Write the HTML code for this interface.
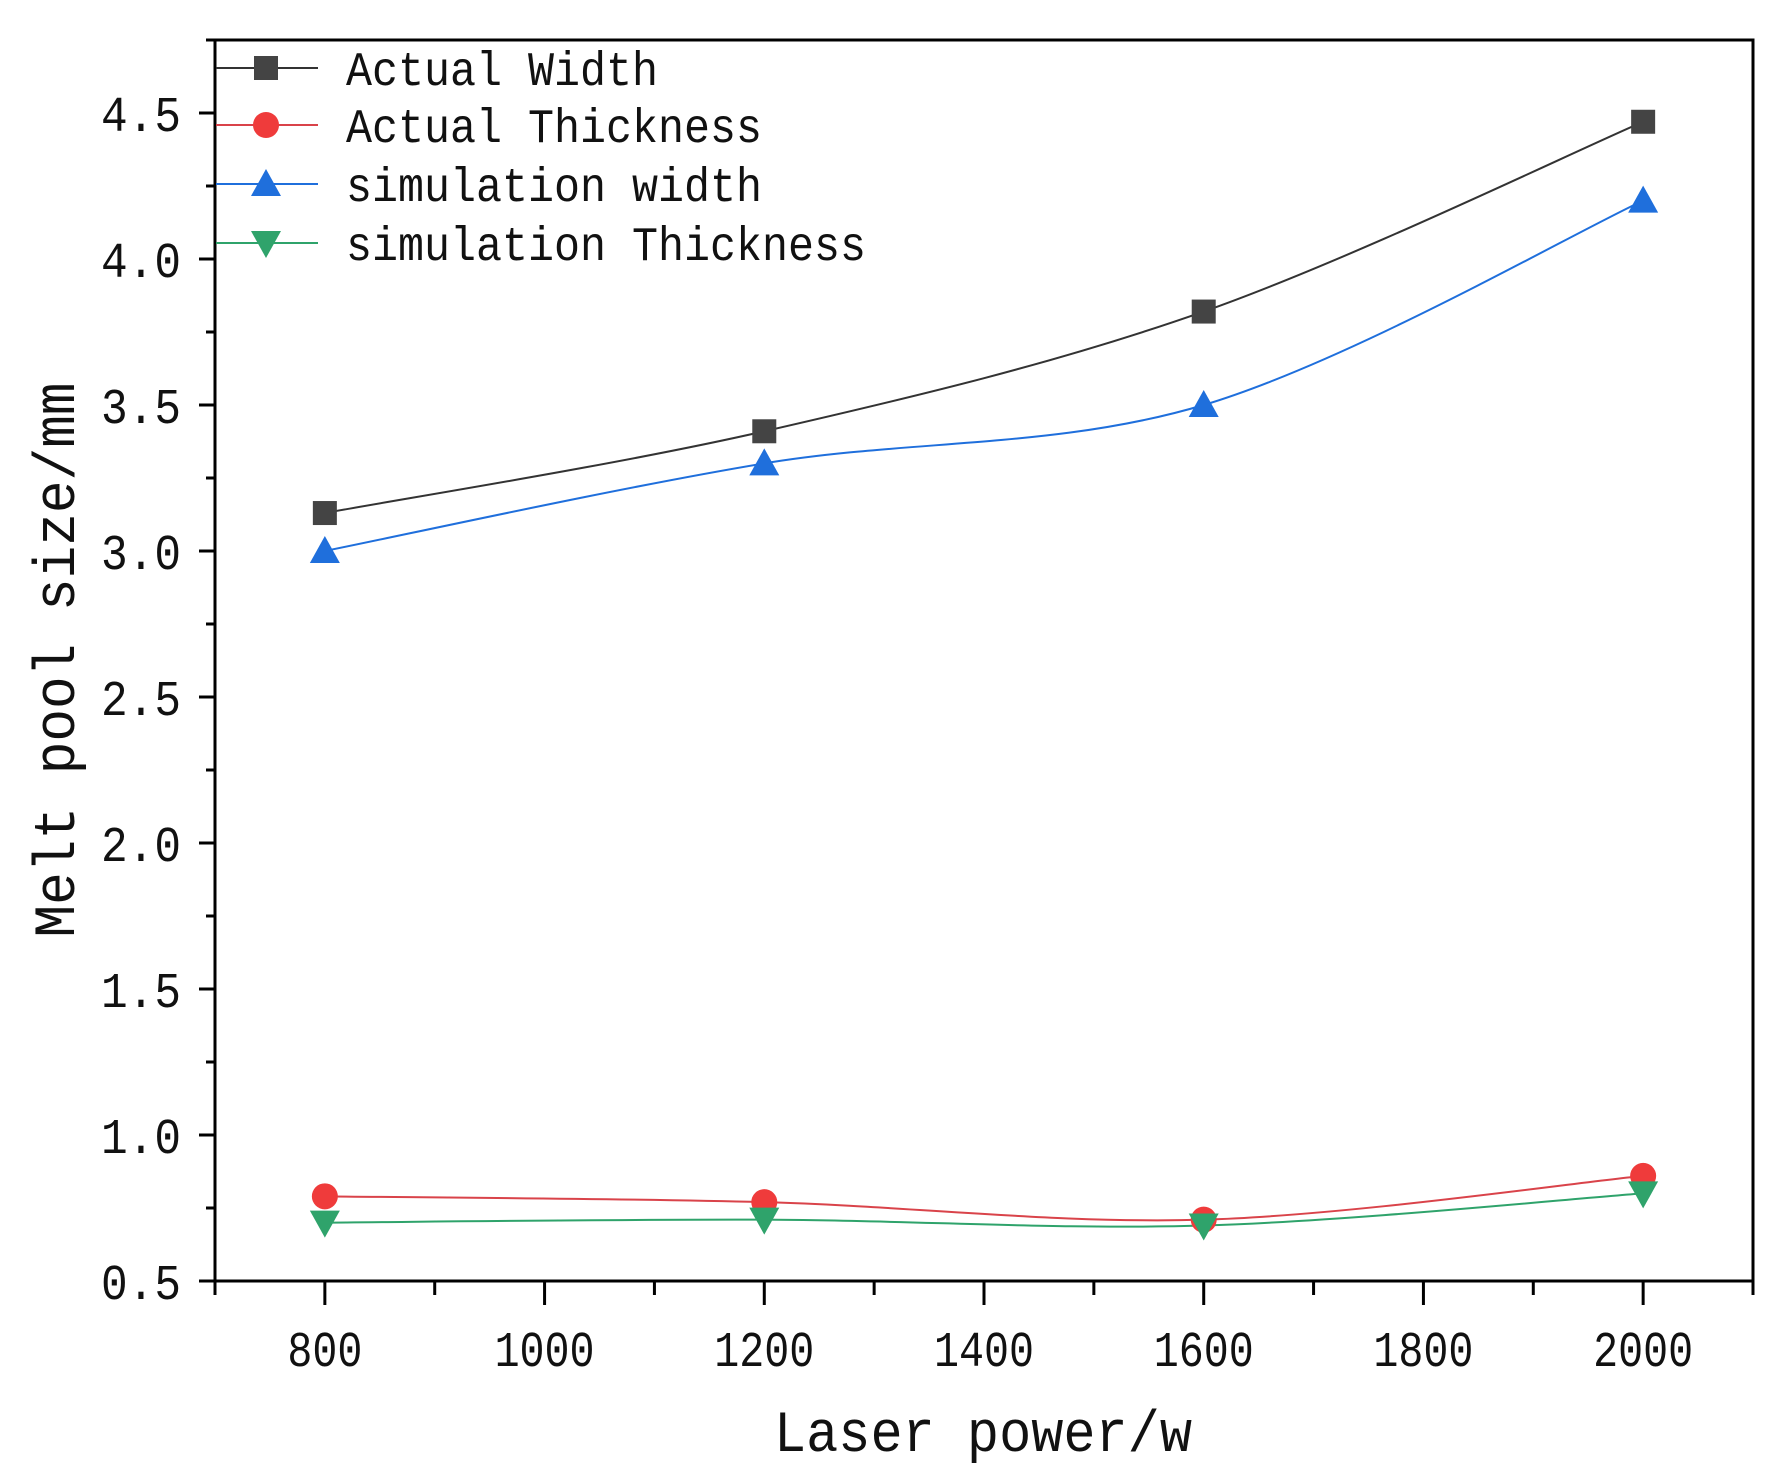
<!DOCTYPE html>
<html><head><meta charset="utf-8"><style>
html,body{margin:0;padding:0;background:#fff;}
svg{display:block;}
text{font-family:"Liberation Mono","Noto Sans CJK SC",monospace;fill:#111;}
</style></head><body>
<svg id="chart" width="1777" height="1483" viewBox="0 0 1777 1483" xmlns="http://www.w3.org/2000/svg"></svg>
<script>
const categories = [800, 1200, 1600, 2000];
const actualWidth = [3.13, 3.41, 3.82, 4.47];
const actualThickness = [0.79, 0.77, 0.71, 0.86];
const simWidth = [3.0, 3.3, 3.5, 4.2];
const simThickness = [0.70, 0.71, 0.69, 0.80];
const xTicks = [800, 1000, 1200, 1400, 1600, 1800, 2000];
const yTicks = [0.5, 1.0, 1.5, 2.0, 2.5, 3.0, 3.5, 4.0, 4.5];
const yTickLabels = ["0.5","1.0","1.5","2.0","2.5","3.0","3.5","4.0","4.5"];

const L=215,R=1753,T=40,B=1281;
const xMin=700,xMax=2100,yMin=0.5,yMax=4.75;
const X=v=>L+(v-xMin)/(xMax-xMin)*(R-L);
const Y=v=>B-(v-yMin)/(yMax-yMin)*(B-T);
const svg=document.getElementById('chart');
const NS='http://www.w3.org/2000/svg';
function mk(tag,attrs,parent){const e=document.createElementNS(NS,tag);for(const k in attrs)e.setAttribute(k,attrs[k]);(parent||svg).appendChild(e);return e;}

// frame
const frame=mk('rect',{x:L,y:T,width:R-L,height:B-T,fill:'none',stroke:'#000','stroke-width':3});



// y ticks
yTicks.forEach((v,i)=>{
  const y=Y(v);
  const t=mk('line',{x1:L-16,x2:L,y1:y,y2:y,stroke:'#000','stroke-width':3});
  
  
  const m=mk('line',{x1:L-9,x2:L,y1:Y(v+0.25),y2:Y(v+0.25),stroke:'#000','stroke-width':3});
  
  
  const tx=mk('text',{x:181,y:y+18,'text-anchor':'end','font-size':50,textLength:80,lengthAdjust:'spacingAndGlyphs'});
  tx.textContent=yTickLabels[i];
  
  
});
// x ticks
for(let v=700;v<=2100;v+=100){
  const major=(v%200===0);
  const t=mk('line',{x1:X(v),x2:X(v),y1:B,y2:B+(major?24:14),stroke:'#000','stroke-width':3});
  
  
}
xTicks.forEach(v=>{
  const tx=mk('text',{x:X(v),y:1366,'text-anchor':'middle','font-size':50,textLength:String(v).length*25,lengthAdjust:'spacingAndGlyphs'});
  tx.textContent=String(v);
  
  
});
// axis titles
const xt=mk('text',{x:983,y:1451,'text-anchor':'middle','font-size':58,textLength:418,lengthAdjust:'spacingAndGlyphs'});
xt.textContent='Laser power/w';


const yt=mk('text',{x:0,y:0,'text-anchor':'middle','font-size':58,textLength:555,lengthAdjust:'spacingAndGlyphs',transform:'translate(74,660) rotate(-90)'});
yt.textContent='Melt pool size/mm';



function smoothPath(vals){
  const p=categories.map((c,i)=>[X(c),Y(vals[i])]);
  let d='M'+p[0][0]+','+p[0][1];
  for(let i=0;i<p.length-1;i++){
    const p0=p[Math.max(0,i-1)],p1=p[i],p2=p[i+1],p3=p[Math.min(p.length-1,i+2)];
    const c1=[p1[0]+(p2[0]-p0[0])/6,p1[1]+(p2[1]-p0[1])/6];
    const c2=[p2[0]-(p3[0]-p1[0])/6,p2[1]-(p3[1]-p1[1])/6];
    d+=' C'+c1+' '+c2+' '+p2;
  }
  return d;
}
function marker(kind,cx,cy,color,name){
  let e;
  if(kind==='square')e=mk('rect',{x:cx-12,y:cy-12,width:24,height:24,fill:color});
  else if(kind==='circle')e=mk('circle',{cx:cx,cy:cy,r:13,fill:color});
  else if(kind==='up')e=mk('polygon',{points:`${cx},${cy-15} ${cx-15},${cy+12} ${cx+15},${cy+12}`,fill:color});
  else e=mk('polygon',{points:`${cx},${cy+15} ${cx-15},${cy-12} ${cx+15},${cy-12}`,fill:color});
  
  
}
const series=[
  {vals:actualWidth,color:'#444',line:'#333',kind:'square',label:'Actual Width',key:'actual-width'},
  {vals:actualThickness,color:'#ef3b3b',line:'#d9434a',kind:'circle',label:'Actual Thickness',key:'actual-thickness'},
  {vals:simWidth,color:'#1f6fdc',line:'#1f6fdc',kind:'up',label:'simulation width',key:'simulation-width'},
  {vals:simThickness,color:'#2fa36b',line:'#2fa36b',kind:'down',label:'simulation Thickness',key:'simulation-thickness'}
];
series.forEach(s=>{
  const p=mk('path',{d:smoothPath(s.vals),fill:'none',stroke:s.line,'stroke-width':2});
  
  
});
series.forEach(s=>{
  categories.forEach((c,i)=>marker(s.kind,X(c),Y(s.vals[i]),s.color,s.key+'-point'));
});
// legend
const legY=[68,125,184,243];
series.forEach((s,i)=>{
  const l=mk('line',{x1:216,x2:318,y1:legY[i],y2:legY[i],stroke:s.line,'stroke-width':2});
  
  
  marker(s.kind,266,legY[i],s.color,'legend-marker');
  const t=mk('text',{x:346,y:legY[i]+17,'font-size':48,textLength:s.label.length*26,lengthAdjust:'spacingAndGlyphs'});
  t.textContent=s.label;
  
  
});
</script>
</body></html>
